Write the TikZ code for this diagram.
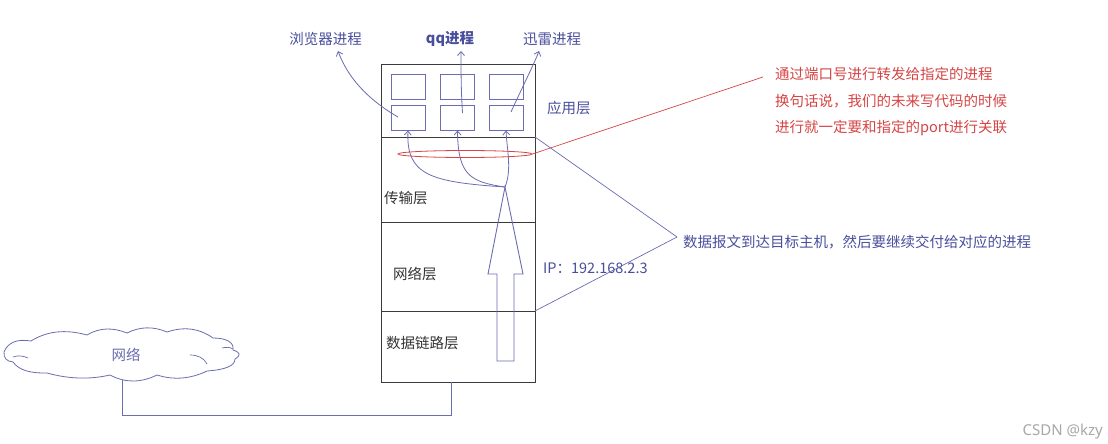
\documentclass[tikz,border=0pt]{standalone}
\usepackage{fontspec}
\setmainfont{Noto Sans CJK SC}
\newfontfamily\latinsans{Noto Sans}
\usetikzlibrary{arrows.meta,shapes.geometric,calc}
\definecolor{lblue}{HTML}{4A4F9C}
\definecolor{lline}{HTML}{6B6DB0}
\definecolor{framec}{HTML}{3A3A3A}
\definecolor{rred}{HTML}{D64545}
\definecolor{dtext}{HTML}{333333}
\definecolor{wmark}{HTML}{A8A8A8}
\begin{document}
\begin{tikzpicture}[x=1pt,y=-1pt,
  layer/.style={draw=framec,line width=0.9pt,minimum width=154pt,inner sep=0pt,outer sep=0pt},
  pbox/.style={draw=lline,line width=0.8pt,minimum width=34pt,minimum height=25pt,inner sep=0pt,outer sep=0pt},
  lbl/.style={font=\fontsize{14.5}{17}\selectfont,inner sep=0pt},
  conn/.style={draw=lline,line width=0.8pt},
  barb/.style={-{Straight Barb[length=4pt,width=7pt]}},
]
\useasboundingbox (0,0) rectangle (1108,444);
\fill[white] (0,0) rectangle (1108,444);

% layers
\node[layer,minimum height=73pt] (app) at (458,100.5) {};
\node[layer,minimum height=85pt] (trans) at (458,179.5) {};
\node[layer,minimum height=89pt] (net) at (458,266.5) {};
\node[layer,minimum height=71pt] (link) at (458,346.5) {};

% process boxes
\node[pbox] (b11) at (408,86.5) {};
\node[pbox] (b12) at (457.5,86.5) {};
\node[pbox] (b13) at (506,86.5) {};
\node[pbox] (b21) at (408,118) {};
\node[pbox] (b22) at (457.5,118) {};
\node[pbox] (b23) at (506,118) {};

% labels
\node[lbl,text=lblue] (lb1) at (325.5,39) {浏览器进程};
\node[lbl,text=lblue,font=\fontsize{14.5}{17}\selectfont\bfseries] (lb2) at (450,39) {qq进程};
\node[lbl,text=lblue] (lb3) at (552,39) {迅雷进程};
\node[lbl,text=lblue,anchor=west] (appl) at (547,108) {应用层};
\node[lbl,text=dtext,anchor=west] (transl) at (384,198) {传输层};
\node[lbl,text=dtext,anchor=west] (netl) at (393,274) {网络层};
\node[lbl,text=dtext,anchor=west] (linkl) at (386,343) {数据链路层};
\node[lbl,text=lblue,anchor=west] (ipl) at (543,268) {IP：192.168.2.3};

% arrows to process labels
\coordinate (e1) at (338,51);
\coordinate (e2) at (461,51);
\coordinate (e3) at (539,51);
\draw[conn,barb] ([xshift=-10pt,yshift=1pt]b21.center) .. controls (360,95) and (345,70) .. (e1);
\draw[conn,barb] ([xshift=5pt,yshift=5pt]b22.center) .. controls (461,90) and (461,70) .. (e2);
\draw[conn,barb] ([xshift=5pt,yshift=6pt]b23.center) .. controls (520,92) and (535,62) .. (e3);

% big up arrow
\coordinate (tip) at (505,187);
\draw[lline,line width=0.9pt] (497,361) -- (497,274) -- (488,274) -- (tip) -- (523,274) -- (514,274) -- (514,361) -- cycle;

% curves from arrow tip to process boxes
\draw[conn,barb] (tip) .. controls (430,182) and (406,175) .. (b21.south);
\draw[conn,barb] (tip) .. controls (470,182) and (458,175) .. (b22.south);
\draw[conn,barb] (tip) .. controls (512,170) and (507,150) .. (b23.south);

% port ellipse and red note
\node[draw=rred,line width=0.8pt,ellipse,minimum width=134pt,minimum height=7pt,inner sep=0pt] (port) at (465,154) {};
\node[lbl,text=rred,align=left,anchor=west,font=\fontsize{14.5}{26.5}\selectfont] (rnote) at (775,102) {通过端口号进行转发给指定的进程\\换句话说，我们的未来写代码的时候\\进行就一定要和指定的port进行关联};
\coordinate (rend) at (763,77);
\draw[rred,line width=0.7pt] (port.east) -- (rend);

% blue note
\node[lbl,text=lblue,anchor=west] (bnote) at (683,242) {数据报文到达目标主机，然后要继续交付给对应的进程};
\coordinate (bend) at (677,237);
\draw[conn,line width=0.7pt] (app.south east) -- (bend);
\draw[conn,line width=0.7pt] (net.south east) -- (bend);

% cloud
\draw[lline,line width=0.8pt,line join=round]
  (4,352) .. controls (8,342.3) and (17,338.7) .. (31,341)
  .. controls (47,331) and (65.3,329) .. (87,335)
  .. controls (100.3,327) and (113.7,327.7) .. (127,333)
  .. controls (140.3,326.3) and (153.7,326.3) .. (167,332)
  .. controls (185,326) and (200,328.7) .. (213,338)
  .. controls (227,338) and (234.3,342.7) .. (233,350)
  .. controls (240.3,352.3) and (241.3,355.3) .. (235,359)
  .. controls (235,365.7) and (225.7,369.7) .. (207,371)
  .. controls (190.3,379) and (173.7,380.3) .. (157,375)
  .. controls (140.7,383) and (125,383) .. (110,375)
  .. controls (89.7,379.7) and (68.7,379) .. (47,373)
  .. controls (30.3,373.3) and (19,370.3) .. (13,362)
  .. controls (6.3,361.3) and (3.7,358) .. cycle;
\draw[lline,line width=0.7pt] (13,357) .. controls (18,355) and (24,356) .. (28,358);
\draw[lline,line width=0.7pt] (190,355) .. controls (198,355) and (204,358) .. (207,364);
\draw[lline,line width=0.7pt] (222,348) .. controls (226,347) and (230,347) .. (233,349);
\node[lbl,text=lline] (cloud) at (126,355) {网络};
\coordinate (cloudb) at (122,380);
\draw[conn] (cloudb) -- ++(0,35) -| ([xshift=-7pt]link.south);

% watermark
\node[text=wmark,anchor=east,font=\latinsans\fontsize{15}{18}\selectfont,inner sep=0pt] (wm) at (1103,432) {CSDN @kzy};
\end{tikzpicture}
\end{document}
